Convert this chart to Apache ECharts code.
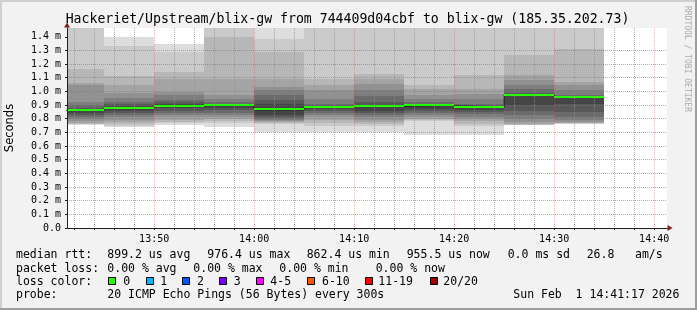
<!DOCTYPE html>
<html><head><meta charset="utf-8">
<script src="https://cdn.jsdelivr.net/npm/echarts@6/dist/echarts.min.js"></script>
<style>html,body{margin:0;padding:0;background:#f2f2f2}#c{width:697px;height:310px}</style>
</head><body><div id="c"></div>
<script>
// ---- data ----
const xStart = '13:41:17';
const xEnd = '14:41:17';
const xTickLabels = ['13:50', '14:00', '14:10', '14:20', '14:30', '14:40'];
const yTicks = [0, 0.1, 0.2, 0.3, 0.4, 0.5, 0.6, 0.7, 0.8, 0.9, 1.0, 1.1, 1.2, 1.3, 1.4];
const yMax = 1.4641;
const barStarts = ['13:40', '13:45', '13:50', '13:55', '14:00', '14:05', '14:10', '14:15', '14:20', '14:25', '14:30'];
const barMinutes = 5;
// median rtt per 5-minute step (ms)
const medianMs = [0.8624, 0.881, 0.896, 0.897, 0.868, 0.889, 0.890, 0.898, 0.886, 0.9764, 0.9555];
// 20 sorted ping rtts per step (ms)
const pings1340 = [0.752, 0.758, 0.764, 0.772, 0.784, 0.800, 0.815, 0.830, 0.845, 0.858, 0.866, 0.872, 0.880, 0.898, 0.922, 1.044, 1.061, 1.161, 1.52, 1.60];
const pings1345 = [0.739, 0.750, 0.764, 0.775, 0.790, 0.813, 0.825, 0.845, 0.860, 0.876, 0.886, 0.895, 0.905, 0.925, 0.950, 0.988, 1.049, 1.112, 1.330, 1.398];
const pings1350 = [0.756, 0.765, 0.775, 0.790, 0.810, 0.830, 0.840, 0.860, 0.875, 0.892, 0.900, 0.910, 0.920, 0.940, 0.970, 0.996, 1.093, 1.142, 1.288, 1.344];
const pings1355 = [0.739, 0.770, 0.785, 0.800, 0.810, 0.826, 0.845, 0.862, 0.875, 0.895, 0.899, 0.902, 0.908, 0.920, 0.946, 0.971, 1.093, 1.398, 1.52, 1.60];
const pings1400 = [0.700, 0.763, 0.768, 0.775, 0.782, 0.790, 0.800, 0.812, 0.830, 0.860, 0.876, 0.911, 0.935, 0.972, 1.008, 1.032, 1.093, 1.288, 1.386, 1.60];
const pings1405 = [0.700, 0.744, 0.765, 0.790, 0.810, 0.825, 0.840, 0.855, 0.870, 0.886, 0.892, 0.895, 0.900, 0.911, 0.946, 1.008, 1.044, 1.093, 1.55, 1.60];
const pings1410 = [0.700, 0.744, 0.764, 0.775, 0.789, 0.810, 0.826, 0.840, 0.857, 0.887, 0.893, 0.898, 0.922, 0.964, 1.008, 1.057, 1.093, 1.130, 1.55, 1.60];
const pings1415 = [0.683, 0.780, 0.790, 0.800, 0.812, 0.826, 0.840, 0.853, 0.870, 0.895, 0.901, 0.903, 0.910, 0.922, 0.946, 0.970, 1.020, 1.044, 1.55, 1.60];
const pings1420 = [0.683, 0.744, 0.760, 0.780, 0.800, 0.815, 0.835, 0.850, 0.865, 0.883, 0.889, 0.895, 0.900, 0.910, 0.946, 0.978, 1.020, 1.118, 1.55, 1.60];
const pings1425 = [0.751, 0.753, 0.755, 0.764, 0.775, 0.800, 0.826, 0.857, 0.900, 0.975, 0.978, 0.984, 0.990, 1.015, 1.044, 1.081, 1.118, 1.264, 1.55, 1.60];
const pings1430 = [0.761, 0.763, 0.765, 0.768, 0.775, 0.789, 0.813, 0.850, 0.911, 0.954, 0.957, 0.960, 0.962, 0.971, 1.008, 1.050, 1.069, 1.313, 1.55, 1.60];

const statsTitle = 'Hackeriet/Upstream/blix-gw from 744409d04cbf to blix-gw (185.35.202.73)';
const rttStats = ['899.2 us avg', '976.4 us max', '862.4 us min', '955.5 us now', '0.0 ms sd', '26.8', 'am/s'];
const lossStats = ['0.00 % avg', '0.00 % max', '0.00 % min', '0.00 % now'];
const lossLabels = ['0', '1', '2', '3', '4-5', '6-10', '11-19', '20/20'];
const lossColors = ['#26ff00', '#00b8ff', '#0059ff', '#7e00ff', '#ff00ff', '#ff5500', '#ff0000', '#a10000'];
const probeText = '20 ICMP Echo Pings (56 Bytes) every 300s';
const dateText = 'Sun Feb  1 14:41:17 2026';

// ---- helpers ----
function toMin(s) { const p = s.split(':').map(Number); return p[0] * 60 + p[1] + (p[2] || 0) / 60; }
function fmtMin(v) { const h = Math.floor(v / 60), m = Math.round(v - h * 60); return String(h).padStart(2, '0') + ':' + String(m).padStart(2, '0'); }
function pad2(n) { return String(n).padStart(2, '0'); }
const xMin = toMin(xStart), xMax = toMin(xEnd);
const majorX = xTickLabels.map(toMin);

// one category per second across the time range, used for grid lines
const secCats = [];
{
  const s0 = Math.round(xMin * 60), s1 = Math.round(xMax * 60);
  for (let s = s0; s <= s1; s++) secCats.push(pad2(Math.floor(s / 3600)) + ':' + pad2(Math.floor(s / 60) % 60) + ':' + pad2(s % 60));
}
function isMajor(i, v) { return v.slice(6) === '00' && (+v.slice(3, 5)) % 10 === 0; }
function isMinor(i, v) { const m = +v.slice(3, 5); return v.slice(6) === '00' && m % 2 === 0 && m % 10 !== 0; }

const smoke = [pings1340, pings1345, pings1350, pings1355, pings1400, pings1405, pings1410, pings1415, pings1420, pings1425, pings1430];
const smokeData = barStarts.map((s, k) => [toMin(s), toMin(s) + barMinutes, medianMs[k]].concat(smoke[k]));
const medianLine = [];
barStarts.forEach((s, k) => { medianLine.push([toMin(s), medianMs[k]]); medianLine.push([toMin(s) + barMinutes, medianMs[k]]); });

const grays = [];
for (let i = 1; i <= 10; i++) { const g = Math.floor(190 / 10 * (10 - i)) + 50; grays.push('rgb(' + g + ',' + g + ',' + g + ')'); }

function renderSmoke(params, api) {
  const cs = params.coordSys;
  const s = api.value(0), e = api.value(1);
  const children = [];
  for (let i = 0; i < 10; i++) {
    const lo = api.value(3 + i), hi = api.value(22 - i);
    const a = api.coord([s, hi]), b = api.coord([e, lo]);
    const x0 = Math.round(a[0]), x1 = Math.round(b[0]), y0 = Math.round(a[1]), y1 = Math.round(b[1]);
    const r = echarts.graphic.clipRectByRect({ x: x0, y: y0, width: x1 - x0, height: y1 - y0 },
      { x: cs.x, y: cs.y, width: cs.width, height: cs.height });
    if (r) children.push({ type: 'rect', shape: r, style: { fill: grays[i] } });
  }
  return { type: 'group', children };
}
function renderMedian(params, api) {
  const cs = params.coordSys;
  const a = api.coord([api.value(0), api.value(2)]), b = api.coord([api.value(1), api.value(2)]);
  const x0 = Math.round(a[0]), x1 = Math.round(b[0]), y = Math.round(a[1]);
  const r = echarts.graphic.clipRectByRect({ x: x0, y: y - 1, width: x1 - x0, height: 2 },
    { x: cs.x, y: cs.y, width: cs.width, height: cs.height });
  return r ? { type: 'rect', shape: r, style: { fill: lossColors[0] } } : null;
}

const mono = 'DejaVu Sans Mono';
const majorGridH = 'rgba(222,79,79,0.6)';
const majorGridV = 'rgba(222,79,79,0.42)';
const minorGrid = 'rgba(143,143,143,0.75)';

// ---- legend / decorations ----
const g = [];
function txt(x, y, text, extra) {
  g.push({ type: 'text', x: x, y: y, z: 50, style: Object.assign({ text: text, font: '11.5px "' + mono + '"', fill: '#000', align: 'left', verticalAlign: 'middle' }, extra || {}) });
}
g.push({ type: 'rect', z: 40, shape: { x: 0, y: 0, width: 697, height: 2 }, style: { fill: '#cfcfcf' } });
g.push({ type: 'rect', z: 40, shape: { x: 0, y: 0, width: 2, height: 310 }, style: { fill: '#cfcfcf' } });
g.push({ type: 'rect', z: 41, shape: { x: 0, y: 308, width: 697, height: 2 }, style: { fill: '#9e9e9e' } });
g.push({ type: 'rect', z: 41, shape: { x: 695, y: 0, width: 2, height: 310 }, style: { fill: '#9e9e9e' } });
txt(347.5, 19.3, statsTitle, { font: '13.2px "' + mono + '"', align: 'center' });
g.push({ type: 'text', x: 687.5, y: 59, rotation: -Math.PI / 2, z: 50, style: { text: 'RRDTOOL / TOBI OETIKER', font: '8px "' + mono + '"', fill: '#aaaaaa', align: 'center', verticalAlign: 'middle' } });
const r1 = 254.9, r2 = 268.6, r3 = 282.3, r4 = 295.2;
txt(16, r1, 'median rtt:');
[107.3, 207.3, 306.7, 406.7, 507.7, 586.7, 635].forEach((x, i) => txt(x, r1, rttStats[i]));
txt(16, r2, 'packet loss:');
[107.3, 193.3, 279.3, 375.7].forEach((x, i) => txt(x, r2, lossStats[i]));
txt(16, r3, 'loss color:');
const boxX = [108.3, 145.7, 182.3, 219, 255.7, 307.3, 365, 430];
const boxTextX = [123.3, 160.3, 197, 233.7, 270.3, 322, 378.3, 443.3];
boxX.forEach((x, i) => {
  g.push({ type: 'rect', z: 50, shape: { x: Math.round(x) + 0.5, y: 277.5, width: 7, height: 7 }, style: { fill: lossColors[i], stroke: '#000', lineWidth: 1 } });
  txt(boxTextX[i], r3, lossLabels[i]);
});
txt(16, r4, 'probe:');
txt(107.3, r4, probeText);
txt(513.3, r4, dateText);

const option = {
  animation: false,
  backgroundColor: '#f2f2f2',
  grid: { left: 67, top: 28, width: 600, height: 200, show: true, backgroundColor: '#ffffff', borderWidth: 0, z: 0, containLabel: false, outerBoundsMode: 'none' },
  xAxis: [
    // data axis (time in minutes of day)
    { type: 'value', min: xMin, max: xMax, position: 'bottom', z: 12,
      axisLine: { show: true, onZero: false, lineStyle: { color: '#1f1f1f', width: 1 } },
      axisTick: { show: false },
      axisLabel: { customValues: majorX, formatter: v => fmtMin(v), fontFamily: mono, fontSize: 10, color: '#000', margin: 6 },
      splitLine: { show: false } },
    // major 10-minute grid
    { type: 'category', data: secCats, boundaryGap: false, position: 'bottom', z: 11,
      axisLine: { show: false },
      axisTick: { show: true, interval: isMajor, length: 2, lineStyle: { color: '#1f1f1f' } },
      axisLabel: { show: false },
      splitLine: { show: true, interval: isMajor, lineStyle: { color: majorGridV, type: [1, 1], width: 1 } } },
    // minor 2-minute grid
    { type: 'category', data: secCats, boundaryGap: false, position: 'bottom', z: 11,
      axisLine: { show: false },
      axisTick: { show: true, interval: isMinor, length: 2, lineStyle: { color: '#1f1f1f' } },
      axisLabel: { show: false },
      splitLine: { show: true, interval: isMinor, lineStyle: { color: minorGrid, type: [1, 1], width: 1 } } },
    // arrow
    { type: 'value', min: xMin, max: xMax, position: 'bottom', z: 10,
      axisLine: { show: true, onZero: false, symbol: ['none', 'triangle'], symbolSize: [6, 5], symbolOffset: [0, 3], lineStyle: { color: '#801f1f', width: 1 } },
      axisTick: { show: false }, axisLabel: { show: false }, splitLine: { show: false } }
  ],
  yAxis: [
    { type: 'value', min: 0, max: yMax, interval: 0.1, position: 'left', z: 12,
      name: 'Seconds', nameLocation: 'middle', nameGap: 57, nameRotate: 90,
      nameTextStyle: { fontFamily: 'DejaVu Sans', fontSize: 11.5, color: '#000', align: 'center', verticalAlign: 'middle' },
      axisLine: { show: true, onZero: false, lineStyle: { color: '#1f1f1f', width: 1 } },
      axisTick: { show: true, customValues: yTicks, length: 2, lineStyle: { color: '#1f1f1f' } },
      axisLabel: { customValues: yTicks, formatter: v => v === 0 ? '0.0' : v.toFixed(1) + ' m', fontFamily: mono, fontSize: 10, color: '#000', margin: 6 },
      splitLine: { show: true, showMinLine: false, showMaxLine: false, lineStyle: { color: majorGridH, type: [1, 1], width: 1 } } },
    { type: 'value', min: 0, max: yMax, position: 'left', z: 10,
      axisLine: { show: true, onZero: false, symbol: ['none', 'triangle'], symbolSize: [6, 5], symbolOffset: [0, 3], lineStyle: { color: '#801f1f', width: 1 } },
      axisTick: { show: false }, axisLabel: { show: false }, splitLine: { show: false } }
  ],
  series: [
    { type: 'custom', name: 'smoke', xAxisIndex: 0, yAxisIndex: 0, z: 1, renderItem: renderSmoke, data: smokeData, encode: { x: [0, 1], y: 2 }, silent: true },
    { type: 'line', name: 'median', xAxisIndex: 0, yAxisIndex: 0, z: 2, data: medianLine, showSymbol: false, symbol: 'none', lineStyle: { color: '#202020', width: 1 }, clip: true, silent: true },
    { type: 'custom', name: 'median loss color', xAxisIndex: 0, yAxisIndex: 0, z: 3, renderItem: renderMedian, data: smokeData, encode: { x: [0, 1], y: 2 }, silent: true }
  ],
  graphic: g
};
const chart = echarts.init(document.getElementById('c'), null, { renderer: 'canvas', width: 697, height: 310 });
chart.setOption(option);
</script>
</body></html>
